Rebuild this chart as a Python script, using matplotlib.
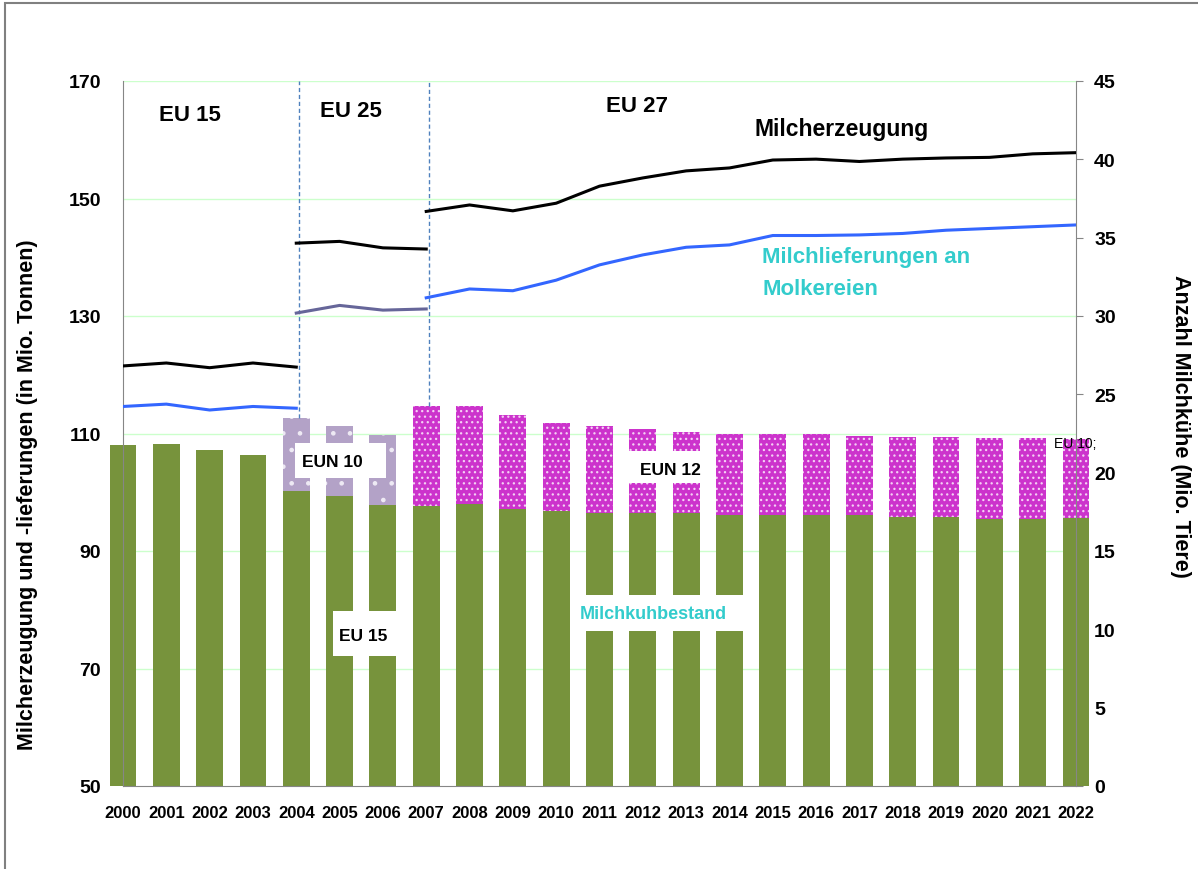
import numpy as np
import matplotlib.pyplot as plt
from matplotlib.patches import Rectangle
from matplotlib.transforms import blended_transform_factory

plt.rcParams['font.family'] = ['Liberation Sans', 'DejaVu Sans']
plt.rcParams['hatch.linewidth'] = 0.9

# ---- data ----
years = list(range(2000, 2023))

# dairy cows, mio. head (right axis)
cows_eu15 = [21.75, 21.8, 21.45, 21.1, 18.8, 18.5, 17.95, 17.9, 18.0, 17.7, 17.55, 17.4,
             17.4, 17.4, 17.3, 17.3, 17.3, 17.3, 17.2, 17.2, 17.05, 17.05, 17.1]
years_eun10 = [2004, 2005, 2006]
cows_total_eu25 = [23.5, 23.0, 22.4]
years_eun12 = list(range(2007, 2023))
cows_total_eu27 = [24.25, 24.25, 23.7, 23.2, 23.0, 22.8, 22.6, 22.5, 22.5, 22.5,
                   22.35, 22.3, 22.3, 22.2, 22.2, 22.15]

# milk production / deliveries, mio. t (left axis)
years_eu15 = [2000, 2001, 2002, 2003, 2004]
years_eu25 = [2004, 2005, 2006, 2007]
years_eu27 = list(range(2007, 2023))
prod_eu15 = [121.5, 122.0, 121.2, 122.0, 121.3]
prod_eu25 = [142.4, 142.7, 141.6, 141.4]
prod_eu27 = [147.8, 148.9, 147.9, 149.2, 152.1, 153.5, 154.7, 155.2, 156.55, 156.7,
             156.3, 156.7, 156.9, 157.0, 157.6, 157.8]
deliv_eu15 = [114.6, 115.0, 114.0, 114.6, 114.3]
deliv_eu25 = [130.5, 131.8, 131.0, 131.2]
deliv_eu27 = [133.1, 134.6, 134.3, 136.1, 138.7, 140.4, 141.7, 142.1, 143.7, 143.7,
              143.8, 144.05, 144.6, 144.9, 145.2, 145.5]

era_starts = [2004, 2007]

# ---- figure ----
W, H = 1198, 870
fig = plt.figure(figsize=(W / 100, H / 100), dpi=100)
ax = fig.add_axes([123 / W, 1 - 787 / H, (1076 - 123) / W, (787 - 82) / H])
axl = ax.twinx()

green = '#77933c'
lav = '#b3a2c7'
mag = '#cc33cc'
cyan = '#33cccc'
grey = '#868686'

def idx(yrs):
    return np.array(yrs) - years[0]

x = idx(years)
bw = 0.62

# grid lines of the left axis, drawn behind the bars
ticks_left = np.arange(70, 171, 20)
tr = blended_transform_factory(ax.transAxes, axl.transData)
for t in ticks_left:
    ax.plot([0, 1], [t, t], transform=tr, color='#ccffcc', lw=1, zorder=0)

ax.bar(x, cows_eu15, width=bw, color=green, linewidth=0, clip_on=False, zorder=2)
ax.bar(idx(years_eun10), np.subtract(cows_total_eu25, cows_eu15[4:7]), bottom=cows_eu15[4:7],
       width=bw, color=lav, edgecolor='#eeeaf4', linewidth=0, hatch='.', clip_on=False, zorder=2)
ax.bar(idx(years_eun12), np.subtract(cows_total_eu27, cows_eu15[7:]), bottom=cows_eu15[7:],
       width=bw, color=mag, edgecolor='#f4d0f4', linewidth=0, hatch='...', clip_on=False, zorder=2)

# era separators
era_tops = [cows_total_eu25[0], cows_total_eu27[0]]
ax.vlines(idx(era_starts) + 0.07, era_tops, 45, colors='#4f81bd', linestyles=(0, (3, 2)),
          lw=1, zorder=3)

ax.set_xlim(0, 22)
ax.set_ylim(0, 45)
ax.set_yticks(np.arange(0, 46, 5))
ax.yaxis.tick_right()
ax.set_xticks(x)
ax.set_xticklabels([str(y) for y in years], fontsize=12, fontweight='bold')
ax.tick_params(axis='x', length=0, pad=14)
ax.tick_params(axis='y', length=5, color=grey, pad=8, labelsize=14)
for lab in ax.get_yticklabels():
    lab.set_fontweight('bold')
ax.spines['top'].set_visible(False)
for s in ['left', 'right', 'bottom']:
    ax.spines[s].set_color(grey)
    ax.spines[s].set_zorder(4)

# lines
axl.plot(idx(years_eu15), prod_eu15, color='black', lw=2.2)
axl.plot(idx(years_eu25), prod_eu25, color='black', lw=2.2)
axl.plot(idx(years_eu27), prod_eu27, color='black', lw=2.2)
axl.plot(idx(years_eu15), deliv_eu15, color='#3366ff', lw=2.2)
axl.plot(idx(years_eu25), deliv_eu25, color='#666699', lw=2.2)
axl.plot(idx(years_eu27), deliv_eu27, color='#3366ff', lw=2.2)
axl.set_ylim(50, 170)
axl.set_yticks(np.arange(50, 171, 20))
axl.yaxis.tick_left()
axl.tick_params(axis='y', length=0, pad=16, labelsize=14)
for lab in axl.get_yticklabels():
    lab.set_fontweight('bold')
for s in axl.spines.values():
    s.set_visible(False)

# ---- annotations ----
def ftext(px, py, s, **kw):
    fig.text(px / W, 1 - py / H, s, **kw)

def wbox(x0, y0, x1, y1):
    fig.add_artist(Rectangle((x0 / W, 1 - y1 / H), (x1 - x0) / W, (y1 - y0) / H,
                             transform=fig.transFigure, facecolor='white',
                             edgecolor='none', zorder=2))

ftext(190, 121, 'EU 15', ha='center', va='baseline', fontsize=16, fontweight='bold')
ftext(351, 117, 'EU 25', ha='center', va='baseline', fontsize=16, fontweight='bold')
ftext(637, 112, 'EU 27', ha='center', va='baseline', fontsize=16, fontweight='bold')
ftext(755, 136, 'Milcherzeugung', ha='left', va='baseline', fontsize=16.5, fontweight='bold')
ftext(762, 263, 'Milchlieferungen an', ha='left', va='baseline', fontsize=16,
      fontweight='bold', color=cyan)
ftext(762, 295, 'Molkereien', ha='left', va='baseline', fontsize=16,
      fontweight='bold', color=cyan)

wbox(295, 444, 386, 479)
ftext(332, 467, 'EUN 10', ha='center', va='baseline', fontsize=12.5, fontweight='bold')
wbox(616, 452, 712, 484)
ftext(670, 475, 'EUN 12', ha='center', va='baseline', fontsize=12.5, fontweight='bold')
wbox(333, 612, 398, 657)
ftext(363, 641, 'EU 15', ha='center', va='baseline', fontsize=12.5, fontweight='bold')
wbox(570, 596, 757, 632)
ftext(653, 619, 'Milchkuhbestand', ha='center', va='baseline', fontsize=13,
      fontweight='bold', color=cyan)
ftext(1054, 448, 'EU 10;', ha='left', va='baseline', fontsize=10)

ftext(28, 495, 'Milcherzeugung und -lieferungen (in Mio. Tonnen)', rotation=90,
      ha='center', va='center', fontsize=15.5, fontweight='bold')
ftext(1180, 426, 'Anzahl Milchkühe (Mio. Tiere)', rotation=270,
      ha='center', va='center', fontsize=15.5, fontweight='bold')

# outer frame
fig.add_artist(Rectangle((5 / W, -0.01), 1.0, 1 - 4 / H + 0.01, transform=fig.transFigure,
                         fill=False, edgecolor='#808080', lw=1.5))

fig.savefig('out.png', dpi=100)
